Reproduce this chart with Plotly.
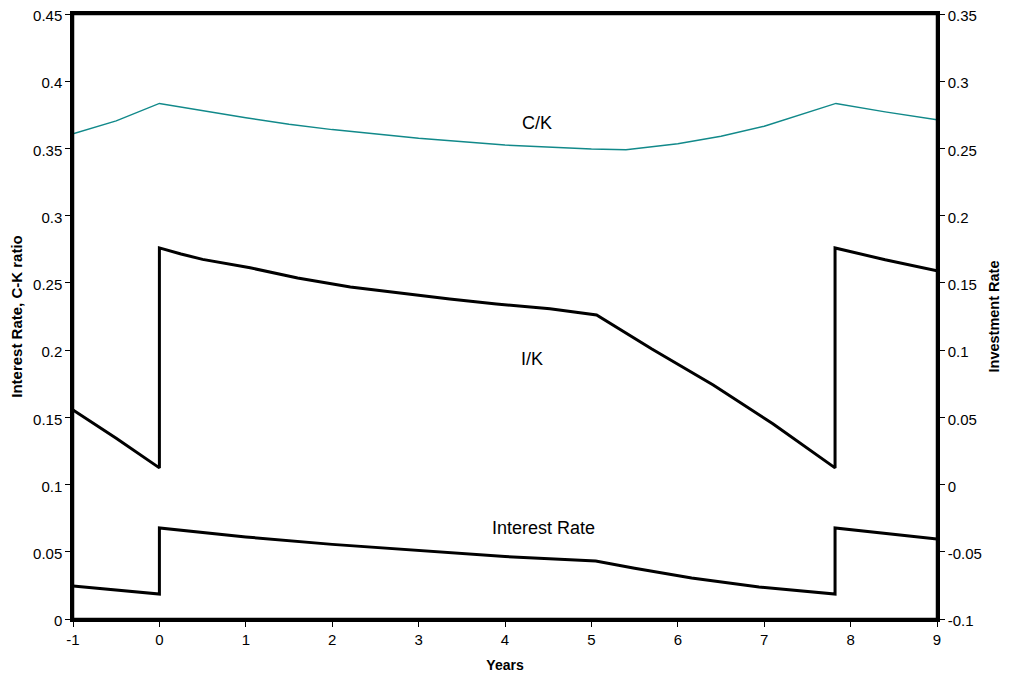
import plotly.graph_objects as go

# ---- data ----
ck_x = [-1, -0.5, 0, 0.5, 1, 1.5, 2, 3, 4, 5, 5.4, 6, 6.5, 7, 7.4, 7.83, 8.4, 9]
ck_y = [0.361, 0.3705, 0.3835, 0.378, 0.3728, 0.368, 0.364, 0.3575, 0.3525, 0.3495, 0.349, 0.3535, 0.359, 0.3665, 0.3745, 0.3835, 0.3772, 0.3713]

ik_x = [-1, -0.5, 0, 0, 0.25, 0.5, 1.05, 1.6, 2.21, 2.8, 3.36, 3.9, 4.52, 5.06, 5.7, 6.41, 7.1, 7.82, 7.82, 8.4, 9]
ik_y = [0.0555, 0.0345, 0.0124, 0.176, 0.1715, 0.1675, 0.1612, 0.1537, 0.147, 0.1422, 0.1381, 0.1343, 0.1307, 0.1262, 0.1008, 0.074, 0.0452, 0.0124, 0.176, 0.1672, 0.159]

ir_x = [-1, 0, 0, 0.5, 1, 2, 3, 4, 5.05, 5.5, 6.16, 6.94, 7.82, 7.82, 9]
ir_y = [0.0246, 0.0186, 0.0677, 0.0642, 0.061, 0.0555, 0.051, 0.0465, 0.0432, 0.0378, 0.0305, 0.0238, 0.0186, 0.0677, 0.0595]

x_ticks = [-1, 0, 1, 2, 3, 4, 5, 6, 7, 8, 9]
x_text = ["-1", "0", "1", "2", "3", "4", "5", "6", "7", "8", "9"]
y1_ticks = [0, 0.05, 0.1, 0.15, 0.2, 0.25, 0.3, 0.35, 0.4, 0.45]
y1_text = ["0", "0.05", "0.1", "0.15", "0.2", "0.25", "0.3", "0.35", "0.4", "0.45"]
y2_ticks = [-0.1, -0.05, 0, 0.05, 0.1, 0.15, 0.2, 0.25, 0.3, 0.35]
y2_text = ["-0.1", "-0.05", "0", "0.05", "0.1", "0.15", "0.2", "0.25", "0.3", "0.35"]

labels = ["C/K", "I/K", "Interest Rate"]
label_x = [4.37, 4.31, 4.44]
label_y = [0.369, 0.1935, 0.0677]

FONT = "Liberation Sans, Arial, sans-serif"

fig = go.Figure()
fig.add_trace(go.Scatter(x=ck_x, y=ck_y, mode="lines", line=dict(color="#11898a", width=1.5), name="C/K"))
fig.add_trace(go.Scatter(x=ik_x, y=ik_y, mode="lines", line=dict(color="black", width=3), name="I/K", yaxis="y2"))
fig.add_trace(go.Scatter(x=ir_x, y=ir_y, mode="lines", line=dict(color="black", width=3), name="Interest Rate"))

for t, lx, ly in zip(labels, label_x, label_y):
    fig.add_annotation(x=lx, y=ly, text=t, showarrow=False, xref="x", yref="y",
                       font=dict(family=FONT, size=18, color="black"))

# plot frame
fig.add_shape(type="rect", xref="paper", yref="paper", x0=0, x1=1, y0=0, y1=1,
              line=dict(color="black", width=2.5), layer="above")

axis_common = dict(showgrid=False, zeroline=False, showline=True, linecolor="black", linewidth=2.5,
                   ticks="outside", ticklen=5, tickcolor="black", tickwidth=1, automargin=False,
                   ticklabeloverflow="allow",
                   tickfont=dict(family=FONT, size=15, color="black"))

fig.update_layout(
    width=994, height=665,
    margin=dict(l=65, r=65, t=6, b=54),
    paper_bgcolor="white", plot_bgcolor="white",
    showlegend=False,
    xaxis=dict(range=[-1, 9], tickvals=x_ticks, ticktext=x_text, mirror=True,
               title=dict(text="<b>Years</b>", font=dict(family=FONT, size=14, color="black"), standoff=15),
               **axis_common),
    yaxis=dict(range=[0, 0.45], tickvals=y1_ticks, ticktext=y1_text, ticklabelshift=2,
               title=dict(text="<b>Interest Rate, C-K ratio</b>", font=dict(family=FONT, size=15, color="black"), standoff=8),
               **axis_common),
    yaxis2=dict(range=[-0.1, 0.35], tickvals=y2_ticks, ticktext=y2_text, overlaying="y", side="right",
                ticklabelshift=2,
                title=dict(text="<b>Investment Rate</b>", font=dict(family=FONT, size=14.5, color="black"), standoff=11),
                **axis_common),
)

fig.write_html("out.html")
